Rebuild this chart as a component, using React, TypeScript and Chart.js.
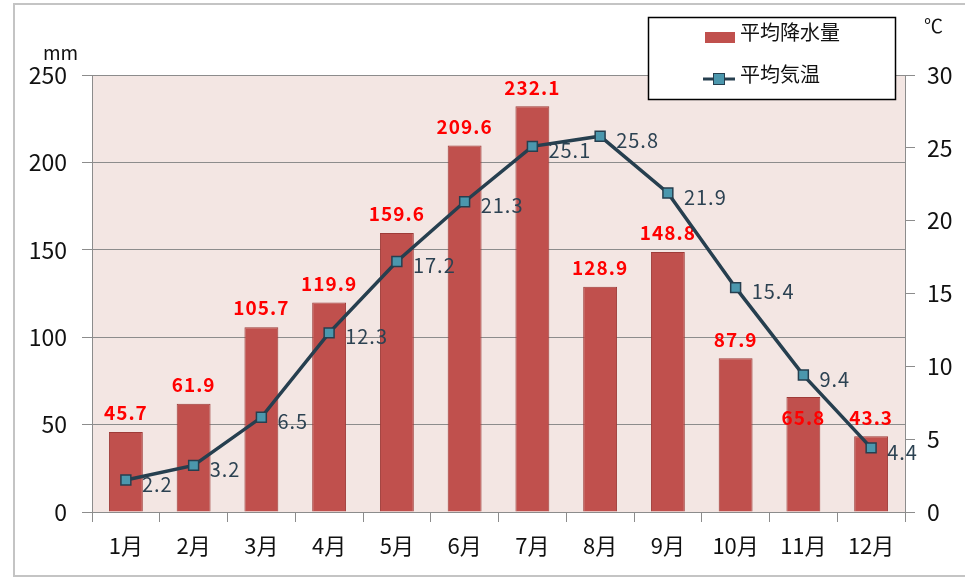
import React, { useEffect, useRef } from "react";
import { Chart, registerables } from "chart.js";

Chart.register(...registerables);

const months = ["1月", "2月", "3月", "4月", "5月", "6月", "7月", "8月", "9月", "10月", "11月", "12月"];
const precipitation = [45.7, 61.9, 105.7, 119.9, 159.6, 209.6, 232.1, 128.9, 148.8, 87.9, 65.8, 43.3];
const temperature = [2.2, 3.2, 6.5, 12.3, 17.2, 21.3, 25.1, 25.8, 21.9, 15.4, 9.4, 4.4];
const precipLabel = "平均降水量";
const tempLabel = "平均気温";
const leftUnit = "mm";
const rightUnit = "℃";

const FONT = "'Noto Sans CJK JP', 'Noto Sans', sans-serif";
const BAR_COLOR = "#c0504d";
const BAR_BORDER = "#9e3b38";
const LINE_COLOR = "#263f4f";
const MARKER_COLOR = "#4b97ad";
const GRID = "#8c8c8c";

const decorPlugin = {
  id: "decor",
  beforeDraw(chart: any) {
    const { ctx, chartArea: a, width, height } = chart;
    ctx.save();
    ctx.fillStyle = "#ffffff";
    ctx.fillRect(0, 0, width, height);
    ctx.fillStyle = "#f3e6e3";
    ctx.fillRect(a.left, a.top, a.right - a.left, a.bottom - a.top);
    ctx.strokeStyle = "#c4c4c4";
    ctx.lineWidth = 2;
    ctx.strokeRect(14, 4, width + 10, height - 6);
    ctx.restore();
  },
  afterDatasetDraw(chart: any, args: any) {
    if (args.index !== 0) return;
    const { ctx } = chart;
    const meta = chart.getDatasetMeta(0);
    ctx.save();
    ctx.font = `bold 19px ${FONT}`;
    (ctx as any).letterSpacing = "1px";
    ctx.fillStyle = "#ff0000";
    ctx.textAlign = "center";
    ctx.textBaseline = "middle";
    meta.data.forEach((bar: any, i: number) => {
      const v = precipitation[i];
      let y = bar.y - 19;
      if (i === 10) y = bar.y + 21;
      ctx.fillText(v.toFixed(1), bar.x, y);
    });
    ctx.restore();
  },
  afterDatasetsDraw(chart: any) {
    const { ctx } = chart;
    const meta = chart.getDatasetMeta(1);
    ctx.save();
    ctx.font = `20px ${FONT}`;
    (ctx as any).letterSpacing = "1px";
    ctx.fillStyle = "#2c4252";
    ctx.textAlign = "left";
    ctx.textBaseline = "middle";
    meta.data.forEach((pt: any, i: number) => {
      ctx.fillText(temperature[i].toFixed(1), pt.x + 16, pt.y + 4);
    });
    ctx.restore();
  },
  afterDraw(chart: any) {
    const { ctx } = chart;
    ctx.save();
    // unit labels
    ctx.fillStyle = "#111";
    ctx.font = `19px ${FONT}`;
    ctx.textBaseline = "alphabetic";
    ctx.textAlign = "left";
    ctx.fillText(leftUnit, 43, 60);
    ctx.font = `19px ${FONT}`;
    ctx.fillText(rightUnit, 924, 33);
    // legend box
    ctx.fillStyle = "#ffffff";
    ctx.fillRect(648, 17, 248, 83);
    ctx.strokeStyle = "#000000";
    ctx.lineWidth = 1.5;
    ctx.strokeRect(648.5, 17.5, 247, 82);
    // bar swatch
    ctx.fillStyle = BAR_COLOR;
    ctx.fillRect(705, 32, 30, 11);
    // line swatch
    ctx.strokeStyle = LINE_COLOR;
    ctx.lineWidth = 3;
    ctx.beginPath();
    ctx.moveTo(703, 79);
    ctx.lineTo(735, 79);
    ctx.stroke();
    ctx.fillStyle = MARKER_COLOR;
    ctx.fillRect(713, 73, 12, 12);
    ctx.strokeStyle = LINE_COLOR;
    ctx.lineWidth = 1;
    ctx.strokeRect(713.5, 73.5, 11, 11);
    ctx.fillStyle = "#111";
    ctx.font = `20px ${FONT}`;
    ctx.textAlign = "left";
    ctx.textBaseline = "middle";
    ctx.fillText(precipLabel, 740, 32);
    ctx.fillText(tempLabel, 740, 74);
    ctx.restore();
  },
};

export default function App() {
  const ref = useRef<HTMLCanvasElement | null>(null);
  useEffect(() => {
    if (!ref.current) return;
    const chart = new Chart(ref.current, {
      type: "bar",
      data: {
        labels: months,
        datasets: [
          {
            type: "bar",
            label: precipLabel,
            data: precipitation,
            backgroundColor: BAR_COLOR,
            borderColor: BAR_BORDER,
            borderWidth: 1,
            categoryPercentage: 1,
            barPercentage: 0.5,
            yAxisID: "y",
            order: 1,
          },
          {
            type: "line",
            label: tempLabel,
            data: temperature,
            borderColor: LINE_COLOR,
            borderWidth: 3.5,
            pointStyle: "rect",
            pointRadius: 7,
            pointBackgroundColor: MARKER_COLOR,
            pointBorderColor: LINE_COLOR,
            pointBorderWidth: 1.5,
            tension: 0,
            yAxisID: "y1",
            order: 0,
          },
        ],
      },
      options: {
        responsive: false,
        animation: false,
        layout: { padding: { left: 20, right: 10, top: 75, bottom: 10 } },
        plugins: { legend: { display: false }, tooltip: { enabled: false } },
        scales: {
          x: {
            offset: true,
            grid: {
              offset: true,
              drawOnChartArea: false,
              drawTicks: true,
              tickLength: 10,
              color: GRID,
            },
            border: { display: true, color: GRID, width: 1 },
            ticks: { color: "#111", font: { family: FONT, size: 22 }, padding: 10 },
            afterFit: (s: any) => {
              s.height = 56;
            },
          },
          y: {
            position: "left",
            min: 0,
            max: 250,
            ticks: { stepSize: 50, color: "#111", font: { family: FONT, size: 23 }, padding: 15 },
            grid: { color: GRID, tickLength: 10, tickColor: GRID, lineWidth: 1 },
            border: { display: true, color: GRID, width: 1 },
            afterFit: (s: any) => {
              s.width = 72;
            },
          },
          y1: {
            position: "right",
            min: 0,
            max: 30,
            ticks: { stepSize: 5, color: "#111", font: { family: FONT, size: 23 }, padding: 12 },
            grid: { drawOnChartArea: false, tickLength: 10, color: GRID },
            border: { display: true, color: GRID, width: 1 },
            afterFit: (s: any) => {
              s.width = 50;
            },
          },
        },
      },
      plugins: [decorPlugin],
    } as any);
    return () => chart.destroy();
  }, []);
  return (
    <div style={{ position: "absolute", left: 0, top: 0, width: 965, height: 578, background: "#fff" }}>
      <canvas ref={ref} width={965} height={578} style={{ display: "block" }} />
    </div>
  );
}
